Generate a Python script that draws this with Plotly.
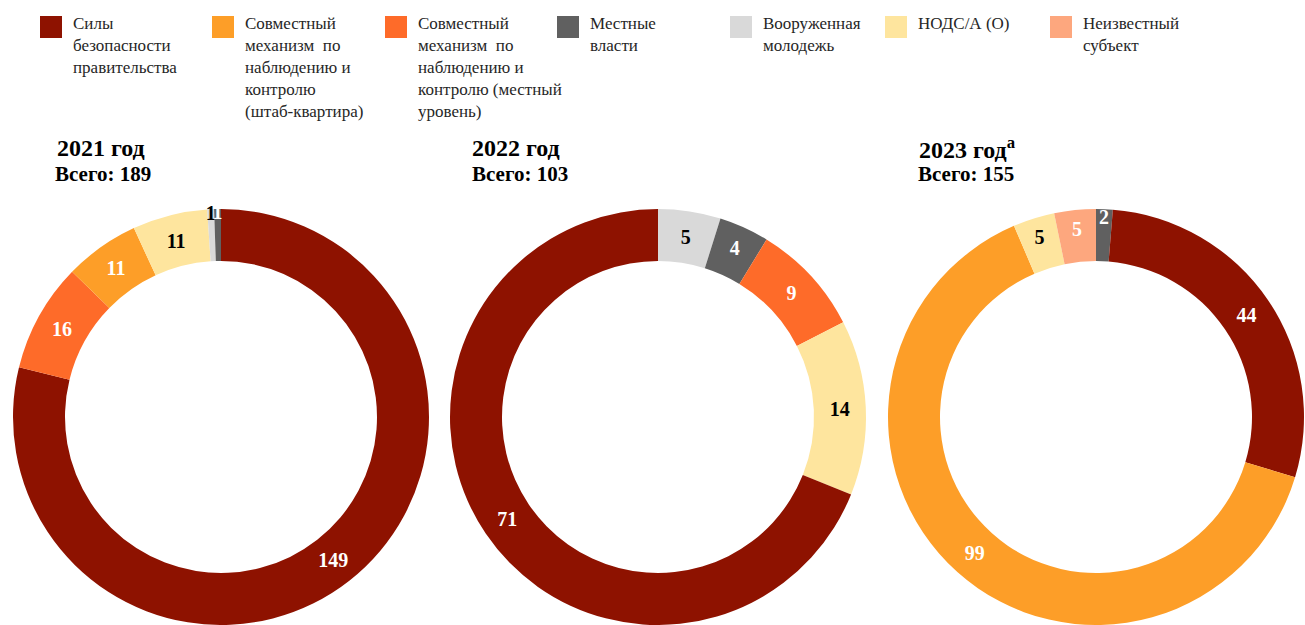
import plotly.graph_objects as go

W, H = 1305, 625

categories = [
    "Силы безопасности правительства",
    "Совместный механизм по наблюдению и контролю (штаб-квартира)",
    "Совместный механизм по наблюдению и контролю (местный уровень)",
    "Местные власти",
    "Вооруженная молодежь",
    "НОДС/А (О)",
    "Неизвестный субъект",
]
legend_labels = [
    "Силы<br>безопасности<br>правительства",
    "Совместный<br>механизм  по<br>наблюдению и<br>контролю<br>(штаб-квартира)",
    "Совместный<br>механизм  по<br>наблюдению и<br>контролю (местный<br>уровень)",
    "Местные<br>власти",
    "Вооруженная<br>молодежь",
    "НОДС/А (О)",
    "Неизвестный<br>субъект",
]
colors = ["#8E1200", "#FD9E28", "#FE6B29", "#606060", "#D9D9D9", "#FEE59E", "#FDA77E"]
label_colors = ["white", "white", "white", "white", "black", "black", "white"]

years = ["2021 год", "2022 год", "2023 год<sup>а</sup>"]
totals = [189, 103, 155]

# slices listed clockwise from 12 o'clock
cats_2021 = [categories[0], categories[2], categories[1], categories[5], categories[4], categories[3]]
vals_2021 = [149, 16, 11, 11, 1, 1]
cats_2022 = [categories[4], categories[3], categories[2], categories[5], categories[0]]
vals_2022 = [5, 4, 9, 14, 71]
cats_2023 = [categories[3], categories[0], categories[1], categories[5], categories[6]]
vals_2023 = [2, 44, 99, 5, 5]

series = [(cats_2021, vals_2021), (cats_2022, vals_2022), (cats_2023, vals_2023)]

# layout (window pixels)
centers_x = [221, 658, 1096]
center_y = 417
r_target = 211
title_x = [55, 470, 917]
sub_x = [53, 470, 916]
legend_x = [40, 212, 385, 557, 730, 885, 1050]

FONT = "Liberation Serif"

def px(x):
    return x / W

def py(y):
    return 1 - y / H

fig = go.Figure()
for i, (cats, vals) in enumerate(series):
    cx = centers_x[i]
    cy = center_y
    r = min(r_target, cx, W - cx, cy, H - cy)
    idx = [categories.index(c) for c in cats]
    fig.add_trace(go.Pie(
        labels=cats,
        values=vals,
        hole=0.75,
        sort=False,
        direction="clockwise",
        rotation=0,
        marker=dict(colors=[colors[k] for k in idx], line=dict(width=0)),
        textinfo="value",
        textposition="inside",
        insidetextorientation="horizontal",
        textfont=dict(family=FONT, size=20, color=[label_colors[k] for k in idx], weight="bold"),
        domain=dict(x=[(cx - r) / W, (cx + r) / W], y=[1 - (cy + r) / H, 1 - (cy - r) / H]),
        showlegend=False,
        name=years[i],
    ))
    fig.add_annotation(x=px(title_x[i]), y=py(148), xref="paper", yref="paper",
                       xanchor="left", yanchor="middle", showarrow=False,
                       text=years[i], font=dict(family=FONT, size=24, color="black", weight="bold"))
    fig.add_annotation(x=px(sub_x[i]), y=py(174), xref="paper", yref="paper",
                       xanchor="left", yanchor="middle", showarrow=False,
                       text=f"Всего: {totals[i]}", font=dict(family=FONT, size=21, color="black", weight="bold"))

# custom legend
for k, lab in enumerate(legend_labels):
    x0 = legend_x[k]
    fig.add_shape(type="rect", xref="paper", yref="paper",
                  x0=px(x0), x1=px(x0 + 22), y0=py(38), y1=py(16),
                  fillcolor=colors[k], line=dict(width=0))
    fig.add_annotation(x=px(x0 + 31), y=py(12), xref="paper", yref="paper",
                       xanchor="left", yanchor="top", align="left", showarrow=False,
                       text=lab, font=dict(family=FONT, size=17, color="#262626"))

fig.update_layout(
    width=W, height=H,
    margin=dict(l=0, r=0, t=0, b=0),
    paper_bgcolor="white", plot_bgcolor="white",
    uniformtext=dict(minsize=20, mode="show"),
)
fig.write_html(
    "out.html",
    config={"displayModeBar": False},
    post_script="document.body.style.margin='0';document.body.style.overflow='hidden';",
)
